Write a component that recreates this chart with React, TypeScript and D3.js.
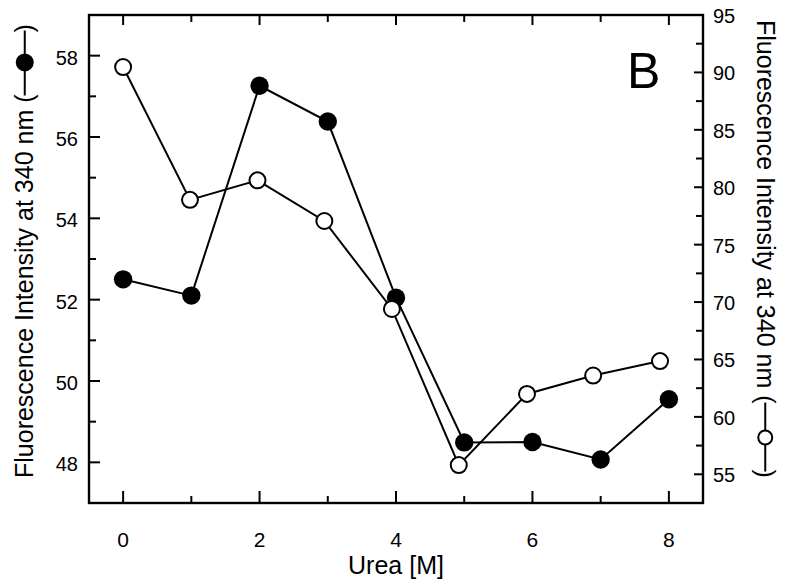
import React, { useEffect, useRef } from 'react';
import * as d3 from 'd3';

// Data
const ureaFilled = [0, 1, 2, 3, 4, 5, 6, 7, 8];
const filledValues = [52.5, 52.1, 57.26, 56.38, 52.05, 48.49, 48.5, 48.07, 49.55];
const ureaOpen = [0, 0.98, 1.97, 2.95, 3.94, 4.92, 5.92, 6.89, 7.87];
const openValues = [90.47, 78.9, 80.6, 77.06, 69.4, 55.8, 62.0, 63.6, 64.86];

const xMajor = [0, 2, 4, 6, 8];
const xMinor = [1, 3, 5, 7];
const leftMajor = [48, 50, 52, 54, 56, 58];
const leftMinor = [49, 51, 53, 55, 57];
const rightMajor = [55, 60, 65, 70, 75, 80, 85, 90, 95];
const rightMinor = [57.5, 62.5, 67.5, 72.5, 77.5, 82.5, 87.5, 92.5];

const xTitle = 'Urea [M]';
const yTitle = 'Fluorescence Intensity at 340 nm (';
const panelLabel = 'B';

const FONT = "'Liberation Sans', Arial, Helvetica, sans-serif";

export default function App() {
  const ref = useRef<SVGSVGElement>(null);

  useEffect(() => {
    const svg = d3.select(ref.current);
    svg.selectAll('*').remove();

    const L = 89, R = 703, T = 15, B = 503;
    const x = d3.scaleLinear().domain([-0.5, 8.5]).range([L, R]);
    const yL = d3.scaleLinear().domain([47, 59]).range([B, T]);
    const yR = d3.scaleLinear().domain([52.5, 95]).range([B, T]);

    const g = svg.append('g').attr('font-family', FONT).attr('fill', '#000');

    // frame
    g.append('rect').attr('x', L).attr('y', T).attr('width', R - L).attr('height', B - T)
      .attr('fill', 'none').attr('stroke', '#000').attr('stroke-width', 2.4);

    const tick = (x1: number, y1: number, x2: number, y2: number) =>
      g.append('line').attr('x1', x1).attr('y1', y1).attr('x2', x2).attr('y2', y2)
        .attr('stroke', '#000').attr('stroke-width', 2);

    // bottom / top ticks
    xMajor.forEach(v => { tick(x(v), B, x(v), B - 12); tick(x(v), T, x(v), T + 10); });
    xMinor.forEach(v => { tick(x(v), B, x(v), B - 7); tick(x(v), T, x(v), T + 7); });
    // left ticks
    leftMajor.forEach(v => tick(L, yL(v), L + 11, yL(v)));
    leftMinor.forEach(v => tick(L, yL(v), L + 7, yL(v)));
    // right ticks
    rightMajor.forEach(v => tick(R, yR(v), R - 9, yR(v)));
    rightMinor.forEach(v => tick(R, yR(v), R - 7, yR(v)));

    // tick labels
    g.selectAll('.xl').data(xMajor).enter().append('text')
      .attr('x', d => x(d)).attr('y', 547).attr('text-anchor', 'middle')
      .attr('font-size', 21).text(d => String(d));
    g.selectAll('.yl').data(leftMajor).enter().append('text')
      .attr('x', 78).attr('y', d => yL(d) + 9).attr('text-anchor', 'end')
      .attr('font-size', 20).text(d => String(d));
    g.selectAll('.yr').data(rightMajor).enter().append('text')
      .attr('x', 713).attr('y', d => yR(d) + 8).attr('text-anchor', 'start')
      .attr('font-size', 20).text(d => String(d));

    // x title
    g.append('text').attr('x', (L + R) / 2).attr('y', 574).attr('text-anchor', 'middle')
      .attr('font-size', 25).text(xTitle);

    // panel label
    g.append('text').attr('x', 627).attr('y', 88).attr('font-size', 50).text(panelLabel);

    const fs = 25;
    const symY = -0.33 * fs;
    // left title (rotated -90)
    const lt = g.append('g').attr('transform', 'translate(33,478) rotate(-90)');
    const ltText = lt.append('text').attr('x', 0).attr('y', 0).attr('font-size', fs).text(yTitle);
    const lLen = (ltText.node() as SVGTextElement).getComputedTextLength();
    const segL = 64;
    lt.append('line').attr('x1', lLen - 1).attr('x2', lLen + segL).attr('y1', symY).attr('y2', symY)
      .attr('stroke', '#000').attr('stroke-width', 2);
    lt.append('circle').attr('cx', lLen + segL / 2).attr('cy', symY).attr('r', 9).attr('fill', '#000');
    lt.append('text').attr('x', lLen + segL - 2).attr('y', 0).attr('font-size', fs).text(')');

    // right title (rotated +90)
    const rt = g.append('g').attr('transform', 'translate(757,20) rotate(90)');
    const rtText = rt.append('text').attr('x', 0).attr('y', 0).attr('font-size', fs).text(yTitle);
    const rLen = (rtText.node() as SVGTextElement).getComputedTextLength();
    const segR = 68;
    rt.append('line').attr('x1', rLen - 1).attr('x2', rLen + segR).attr('y1', symY).attr('y2', symY)
      .attr('stroke', '#000').attr('stroke-width', 2);
    rt.append('circle').attr('cx', rLen + segR / 2).attr('cy', symY).attr('r', 7)
      .attr('fill', '#fff').attr('stroke', '#000').attr('stroke-width', 2);
    rt.append('text').attr('x', rLen + segR - 2).attr('y', 0).attr('font-size', fs).text(')');

    const filled = ureaFilled.map((u, i) => [u, filledValues[i]] as [number, number]);
    const open = ureaOpen.map((u, i) => [u, openValues[i]] as [number, number]);

    const lineL = d3.line<[number, number]>().x(d => x(d[0])).y(d => yL(d[1]));
    const lineR = d3.line<[number, number]>().x(d => x(d[0])).y(d => yR(d[1]));

    // filled series (left axis)
    g.append('path').attr('d', lineL(filled)).attr('fill', 'none').attr('stroke', '#000').attr('stroke-width', 2);
    g.selectAll('.fc').data(filled).enter().append('circle')
      .attr('cx', d => x(d[0])).attr('cy', d => yL(d[1])).attr('r', 9.2).attr('fill', '#000');

    // open series (right axis)
    g.append('path').attr('d', lineR(open)).attr('fill', 'none').attr('stroke', '#000').attr('stroke-width', 2);
    g.selectAll('.oc').data(open).enter().append('circle')
      .attr('cx', d => x(d[0])).attr('cy', d => yR(d[1])).attr('r', 8)
      .attr('fill', '#fff').attr('stroke', '#000').attr('stroke-width', 2);
  }, []);

  return (
    <svg ref={ref} width={789} height={580}
      style={{ position: 'absolute', left: 0, top: 0, background: '#fff' }} />
  );
}
